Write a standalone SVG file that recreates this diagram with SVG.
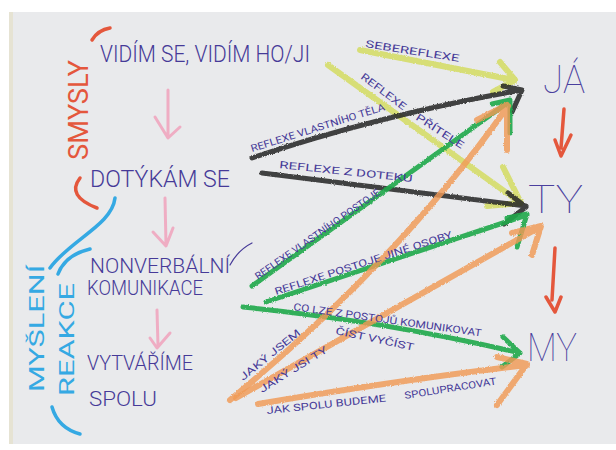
<svg xmlns="http://www.w3.org/2000/svg" width="616" height="450" viewBox="0 0 616 450">
<style>
.hand{font-family:Roboto,"Liberation Sans","DejaVu Sans",sans-serif;font-weight:300;fill:#463a98;}
.big{font-size:24px;}
.mid{font-size:20px;}
.lbl{font-size:10px;font-weight:400;}
.node{font-family:Roboto,"Liberation Sans","DejaVu Sans",sans-serif;font-weight:100;fill:#4a3f9e;font-size:38px;}
.cr{fill:none;stroke-linecap:round;stroke-linejoin:round;}
.yel{stroke:#d3dc62;stroke-width:6;opacity:0.85;}
.blk{stroke:#2a2a2a;stroke-width:5;opacity:0.88;}
.grn{stroke:#1fa84a;stroke-width:5;opacity:0.9;}
.org{stroke:#f09a55;stroke-width:6;opacity:0.82;}
.pink{stroke:#f0a6bf;stroke-width:3;opacity:0.9;}
.red{stroke:#e4573c;stroke-width:3.5;}
.blue{stroke:#35a9e3;stroke-width:3.5;}
.pen{fill:none;stroke:#463a98;stroke-width:1.2;stroke-linecap:round;}
</style>
<defs>
<filter id="crayon" x="-5%" y="-5%" width="110%" height="110%">
<feTurbulence type="fractalNoise" baseFrequency="0.9" numOctaves="2" seed="3" result="n"/>
<feDisplacementMap in="SourceGraphic" in2="n" scale="2.5" xChannelSelector="R" yChannelSelector="G"/>
</filter>
</defs>
<rect x="0" y="0" width="616" height="450" fill="#ffffff"/>
<rect x="9" y="12" width="607" height="432" fill="#e9eaec"/>
<rect x="9" y="12" width="4" height="432" fill="#e6e3d3"/>

<!-- left column -->
<g id="smysly">
<path class="cr red" d="M92,40 Q98,30 110,28"/>
<text class="hand" transform="translate(88,160) rotate(-90)" font-size="28" textLength="100" lengthAdjust="spacingAndGlyphs" style="fill:#e4573c;font-weight:400">SMYSLY</text>
<path class="cr red" d="M80,178 Q66,196 97,208"/>
</g>
<g id="mysleni-reakce">
<path class="cr blue" d="M115,198 C112,225 70,240 50,268"/>
<path class="cr blue" d="M90,249 Q65,255 58,274"/>
<text class="hand" transform="translate(44,392) rotate(-90)" font-size="20" textLength="127" lengthAdjust="spacingAndGlyphs" style="fill:#35a9e3;font-weight:400">MYŠLENÍ</text>
<text class="hand" transform="translate(74,396) rotate(-90)" font-size="20" textLength="113" lengthAdjust="spacingAndGlyphs" style="fill:#35a9e3;font-weight:400">REAKCE</text>
<path class="cr blue" d="M52,407 Q58,428 80,434"/>
</g>
<g id="vidim">
<text class="hand big" x="100" y="62" textLength="210" lengthAdjust="spacingAndGlyphs">VIDÍM SE, VIDÍM HO/JI</text>
</g>
<g id="dotykam">
<text class="hand big" x="90" y="187" textLength="140" lengthAdjust="spacingAndGlyphs">DOTÝKÁM SE</text>
</g>
<g id="nonverbalni">
<text class="hand mid" x="90" y="273" textLength="140" lengthAdjust="spacingAndGlyphs">NONVERBÁLNÍ</text>
<path class="pen" d="M230,265 Q238,250 252,243"/>
<text class="hand mid" x="87" y="295" textLength="116" lengthAdjust="spacingAndGlyphs">KOMUNIKACE</text>
</g>
<g id="vytvarime">
<text class="hand mid" x="87" y="370" textLength="106" lengthAdjust="spacingAndGlyphs">VYTVÁŘÍME</text>
<text class="hand mid" x="89" y="406" textLength="68" lengthAdjust="spacingAndGlyphs">SPOLU</text>
</g>
<g id="left-arrows">
<path class="cr pink" d="M168,90 L168,137 M155,117 L168,138 L180,127"/>
<path class="cr pink" d="M165,198 L166,245 M153,232 L166,246 L173,228"/>
<path class="cr pink" d="M157,310 L158,346 M150,338 L157,348 L170,333"/>
</g>

<!-- right nodes -->
<g id="ja">
<text class="node" x="543" y="93" textLength="42" lengthAdjust="spacingAndGlyphs">JÁ</text>
</g>
<g id="ty">
<text class="node" x="528" y="213" textLength="55" lengthAdjust="spacingAndGlyphs">TY</text>
</g>
<g id="my">
<text class="node" x="527" y="361" textLength="50" lengthAdjust="spacingAndGlyphs">MY</text>
</g>
<g id="right-arrows">
<path class="cr red" d="M564,109 L561,148 M555,140 L561,156 L571,135"/>
<path class="cr red" d="M555,248 L552,300 M546,297 L555,312 L561,297"/>
</g>

<!-- connectors -->
<g id="connectors" filter="url(#crayon)">
<path class="cr yel" d="M360,50 L514,80 M500,62 L515,80 L493,92"/>
<path class="cr yel" d="M328,65 L521,203 M503,167 L521,203 L487,206"/>
<path class="cr blk" d="M252,158 Q380,115 521,90 M503,86 L522,90 L512,112"/>
<path class="cr blk" d="M262,173 Q400,190 526,206 M508,193 L526,207 L504,224"/>
<path class="cr grn" d="M252,286 L510,101 M492,104 L510,100 L510,133"/>
<path class="cr grn" d="M266,302 L527,215 M507,218 L527,214 L517,247"/>
<path class="cr grn" d="M243,307 Q390,322 520,353 M503,337 L520,353 L502,367"/>
<path class="cr org" d="M230,400 Q400,260 508,106 M477,120 L507,105 L507,150"/>
<path class="cr org" d="M236,398 L540,227 M512,233 L541,226 L532,255"/>
<path class="cr org" d="M258,404 Q400,380 527,365 M497,357 L527,364 L497,405"/>
</g>

<!-- connector labels -->
<g id="labels" class="hand lbl">
<text transform="translate(365,47) rotate(9)" textLength="95" lengthAdjust="spacingAndGlyphs">SEBEREFLEXE</text>
<text transform="translate(360,78) rotate(37)" textLength="54" lengthAdjust="spacingAndGlyphs">REFLEXE</text>
<text transform="translate(415,119) rotate(33)" textLength="55" lengthAdjust="spacingAndGlyphs">PŘÍTELE</text>
<text transform="translate(252,152) rotate(-17.5)" textLength="140" lengthAdjust="spacingAndGlyphs">REFLEXE VLASTNÍHO TĚLA</text>
<text transform="translate(279,168) rotate(6)" textLength="134" lengthAdjust="spacingAndGlyphs">REFLEXE Z DOTEKU</text>
<text transform="translate(258,280) rotate(-35)" textLength="150" lengthAdjust="spacingAndGlyphs">REFLEXE VLASTNÍHO POSTOJE</text>
<text transform="translate(276,295) rotate(-18)" textLength="186" lengthAdjust="spacingAndGlyphs">REFLEXE POSTOJE JINÉ OSOBY</text>
<text transform="translate(293,310) rotate(8)" textLength="190" lengthAdjust="spacingAndGlyphs">CO LZE Z POSTOJŮ KOMUNIKOVAT</text>
<text transform="translate(335,334) rotate(12)" textLength="80" lengthAdjust="spacingAndGlyphs">ČÍST VYČÍST</text>
<text transform="translate(243,381) rotate(-39)" textLength="75" lengthAdjust="spacingAndGlyphs">JAKÝ JSEM</text>
<text transform="translate(262,393) rotate(-32)" textLength="78" lengthAdjust="spacingAndGlyphs">JAKÝ JSI TY</text>
<text transform="translate(267,414) rotate(-6)" textLength="120" lengthAdjust="spacingAndGlyphs">JAK SPOLU BUDEME</text>
<text transform="translate(405,399) rotate(-9)" textLength="93" lengthAdjust="spacingAndGlyphs">SPOLUPRACOVAT</text>
</g>
</svg>
